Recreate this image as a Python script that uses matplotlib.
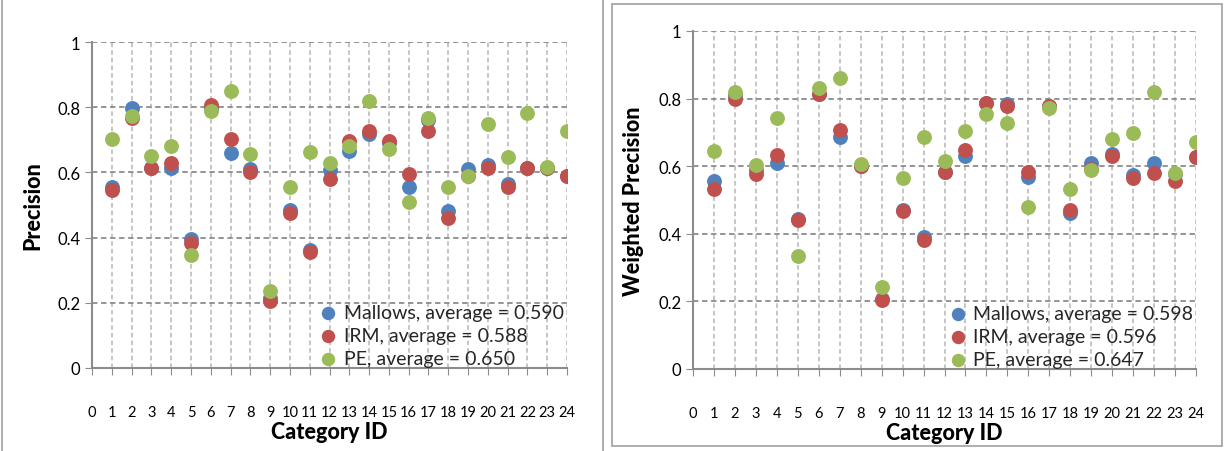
import numpy as np
import matplotlib
matplotlib.use('Agg')
from matplotlib import pyplot as plt
from matplotlib.patches import Rectangle

plt.rcParams['font.family'] = ['Lato', 'DejaVu Sans']

category_ids = list(range(1, 25))
x_ticks = list(range(0, 25))

# left panel: precision
prec_mallows = [0.555, 0.798, 0.614, 0.612, 0.396, 0.798, 0.660, 0.609, 0.215, 0.486, 0.363, 0.607,
                0.667, 0.718, 0.690, 0.554, 0.762, 0.483, 0.609, 0.622, 0.565, 0.614, 0.615, 0.588]
prec_irm = [0.547, 0.767, 0.614, 0.629, 0.384, 0.808, 0.703, 0.602, 0.207, 0.476, 0.355, 0.581,
            0.696, 0.728, 0.696, 0.595, 0.728, 0.460, 0.588, 0.614, 0.554, 0.614, 0.615, 0.588]
prec_pe = [0.703, 0.774, 0.650, 0.681, 0.348, 0.788, 0.849, 0.655, 0.235, 0.554, 0.662, 0.629,
           0.680, 0.820, 0.673, 0.509, 0.767, 0.554, 0.588, 0.747, 0.648, 0.781, 0.616, 0.728]

# right panel: weighted precision
wprec_mallows = [0.557, 0.810, 0.590, 0.609, 0.444, 0.814, 0.687, 0.602, 0.207, 0.470, 0.390, 0.582,
                 0.629, 0.786, 0.784, 0.567, 0.777, 0.462, 0.609, 0.636, 0.574, 0.609, 0.577, 0.626]
wprec_irm = [0.533, 0.799, 0.577, 0.633, 0.442, 0.814, 0.708, 0.600, 0.205, 0.468, 0.383, 0.584,
             0.648, 0.786, 0.779, 0.582, 0.777, 0.471, 0.592, 0.631, 0.564, 0.580, 0.557, 0.626]
wprec_pe = [0.644, 0.821, 0.604, 0.743, 0.333, 0.831, 0.861, 0.607, 0.242, 0.564, 0.687, 0.614,
            0.705, 0.754, 0.728, 0.480, 0.771, 0.533, 0.590, 0.680, 0.698, 0.819, 0.580, 0.671]

left_labels = ['Mallows, average = 0.590', 'IRM, average = 0.588', 'PE, average = 0.650']
right_labels = ['Mallows, average = 0.598', 'IRM, average = 0.596', 'PE, average = 0.647']
colors = ['#4F81BD', '#C0504D', '#9BBB59']


def draw_panel(ax, series, labels, ylabel):
    for vals, lab, c in zip(series, labels, colors):
        ax.scatter(category_ids, vals, s=115, color=c, label=lab, zorder=3, linewidths=0)
    ax.set_xlim(0, 24)
    ax.set_ylim(0, 1)
    ax.set_xticks(x_ticks)
    ax.set_yticks([0, 0.2, 0.4, 0.6, 0.8, 1])
    ax.set_yticklabels(['0', '0.2', '0.4', '0.6', '0.8', '1'])
    ax.xaxis.grid(True, color='#b5b5b5', linestyle=(0, (3, 2)), linewidth=1.1)
    ax.yaxis.grid(True, color='#8c8c8c', linestyle=(0, (3, 2)), linewidth=1.3)
    ax.set_axisbelow(True)
    for s in ['top', 'right']:
        ax.spines[s].set_visible(False)
    for s in ['left', 'bottom']:
        ax.spines[s].set_color('#8c8c8c')
        ax.spines[s].set_linewidth(1.5)
    ax.tick_params(axis='x', length=5, color='#8c8c8c', pad=22, labelsize=10.5)
    ax.tick_params(axis='y', length=5, color='#8c8c8c', labelsize=12)
    ax.set_xlabel('Category ID', fontsize=15.5, fontweight='black', labelpad=1)
    ax.set_ylabel(ylabel, fontsize=15.5, fontweight='black', labelpad=10)
    ax.legend(loc='lower right', bbox_to_anchor=(1.01, -0.02), frameon=False,
              fontsize=14, handletextpad=-0.2, labelspacing=0.3, borderaxespad=0,
              markerscale=0.9, labelcolor='#262626')


fig = plt.figure(figsize=(12.25, 4.52), dpi=100)

# panel borders
fig.patches.append(Rectangle((2 / 1225, -0.01), 601 / 1225, 1.02, transform=fig.transFigure,
                             fill=False, edgecolor='#a0a0a0', linewidth=1.2))
fig.patches.append(Rectangle((612 / 1225, 5 / 452), 610 / 1225, 442 / 452, transform=fig.transFigure,
                             fill=False, edgecolor='#a0a0a0', linewidth=1.2))

ax1 = fig.add_axes([92 / 1225, 1 - 369 / 452, 475 / 1225, 326 / 452])
draw_panel(ax1, [prec_mallows, prec_irm, prec_pe], left_labels, 'Precision')

ax2 = fig.add_axes([693 / 1225, 1 - 370 / 452, 503 / 1225, 338 / 452])
draw_panel(ax2, [wprec_mallows, wprec_irm, wprec_pe], right_labels, 'Weighted Precision')

fig.savefig('out.png', dpi=100)
